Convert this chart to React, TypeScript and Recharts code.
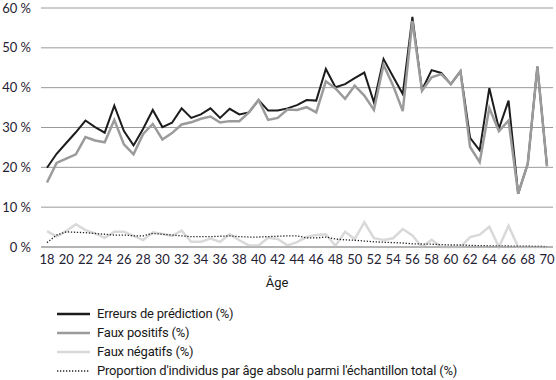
import React from 'react';
import { LineChart, Line, XAxis, YAxis, CartesianGrid, Legend } from 'recharts';

const ages = [18,19,20,21,22,23,24,25,26,27,28,29,30,31,32,33,34,35,36,37,38,39,40,41,42,43,44,45,46,47,48,49,50,51,52,53,54,55,56,57,58,59,60,61,62,63,64,65,66,67,68,69,70];

const erreurs = [19.9,23.4,26.1,28.8,31.75,30.1,28.7,35.5,29.1,25.5,
  29.7,34.4,30.1,31.2,34.8,32.4,33.3,34.8,32.4,34.7,
  33.3,33.8,36.9,34.25,34.25,34.8,35.6,36.9,36.75,44.7,
  40.1,40.9,42.4,43.8,36.3,47.2,42.75,38.4,57.75,39.4,
  44.4,43.7,40.9,44.1,27.4,24.25,39.9,29.7,36.75,13.4,
  20.9,45.3,20.3];

const fauxPositifs = [16.2,21.1,22.2,23.25,27.6,26.75,26.3,31.9,25.75,23.25,
  28.4,30.9,27,28.6,30.75,31.3,32.2,32.75,31.25,31.6,
  31.6,33.8,36.9,31.9,32.4,34.5,34.4,35.1,33.8,41.6,
  39.8,37.2,40.5,38,34.4,45.75,40.5,34.1,56.75,39.25,
  42.6,43.4,40.9,44.1,25.1,21.3,34.9,29.1,31.75,13.4,
  20.9,45.3,20.3];

const fauxNegatifs = [4.0,2.6,4.0,5.7,4.25,3.4,2.3,3.8,3.8,2.8,
  1.75,3.7,3.25,2.8,4.1,1.3,1.3,2.1,1.3,3.2,
  1.7,0.4,0.4,2.3,2.0,0.4,1.2,2.5,3.0,3.2,
  0.3,3.8,2.0,6.2,2.2,1.75,2.2,4.5,2.9,0,
  1.8,0,0,0,2.5,3.1,5.1,0,5.3,0,
  0,0,0];

const proportion = [1.1,3.0,3.8,3.7,3.6,3.4,3.2,3.0,3.0,2.8,
  2.8,3.4,3.2,3.0,2.8,2.6,2.6,2.6,2.7,2.8,
  2.6,2.5,2.5,2.6,2.7,2.8,2.8,2.3,2.3,2.5,
  2.0,1.8,1.7,1.5,1.3,1.2,1.1,1.0,0.8,0.75,
  0.7,0.6,0.5,0.5,0.4,0.35,0.3,0.3,0.25,0.2,
  0.2,0.15,0.1];

const xTicks = [18,20,22,24,26,28,30,32,34,36,38,40,42,44,46,48,50,52,54,56,58,60,62,64,66,68,70];
const yTicks = [0,10,20,30,40,50,60];

const series = [
  { key: 'erreurs', name: 'Erreurs de prédiction (%)', color: '#1c1c1c', width: 2, dash: undefined as string | undefined },
  { key: 'positifs', name: 'Faux positifs (%)', color: '#9b9b9b', width: 2.5, dash: undefined as string | undefined },
  { key: 'negatifs', name: 'Faux négatifs (%)', color: '#d9d9d9', width: 2.5, dash: undefined as string | undefined },
  { key: 'proportion', name: "Proportion d'individus par âge absolu parmi l'échantillon total (%)", color: '#222222', width: 1.3, dash: '1.3 1.7' },
];

const data = ages.map((age, i) => ({
  age,
  erreurs: erreurs[i],
  positifs: fauxPositifs[i],
  negatifs: fauxNegatifs[i],
  proportion: proportion[i],
}));

const FONT = "'Roboto', sans-serif";
const TICK_FONT = "'Lato', 'Open Sans', sans-serif";

const LegendContent = () => (
  <div style={{ fontFamily: FONT, fontSize: 13, letterSpacing: -0.2, color: '#1a1a1a' }}>
    {series.map((s) => (
      <div key={s.key} style={{ display: 'flex', alignItems: 'center', height: 19 }}>
        <svg width={33} height={6} style={{ marginRight: 7 }}>
          <line x1={0} y1={3} x2={33} y2={3} stroke={s.color} strokeWidth={s.key === 'proportion' ? 1.3 : 2.5} strokeDasharray={s.dash} />
        </svg>
        <span>{s.name}</span>
      </div>
    ))}
  </div>
);

export default function App() {
  return (
    <div style={{ position: 'absolute', left: 0, top: 0 }}>
      <LineChart width={556} height={380} data={data} margin={{ top: 8, right: 3, left: 0, bottom: 93 }}>
        <CartesianGrid vertical={false} stroke="#9a9a9a" strokeWidth={1} />
        <XAxis
          dataKey="age"
          type="number"
          domain={[18, 70]}
          ticks={xTicks}
          interval={0}
          padding={{ left: 6, right: 6 }}
          axisLine={{ stroke: '#9a9a9a' }}
          tickLine={false}
          height={40}
          tick={{ fontFamily: TICK_FONT, fontSize: 13, fill: '#1f2233' }}
          label={{ value: 'Âge', position: 'insideBottom', offset: 0, dx: -20, fontFamily: FONT, fontSize: 13, fill: '#1a1a1a' }}
        />
        <YAxis
          width={41}
          domain={[0, 60]}
          ticks={yTicks}
          axisLine={false}
          tickLine={false}
          tickMargin={4}
          tickFormatter={(v: number) => `${v} %`}
          tick={{ fontFamily: TICK_FONT, fontSize: 13, fill: '#1f2233' }}
        />
        <Legend
          layout="vertical"
          align="center"
          verticalAlign="middle"
          content={<LegendContent />}
          wrapperStyle={{ left: 57, top: 304, width: 480 }}
        />
        <Line dataKey="negatifs" name={series[2].name} stroke={series[2].color} strokeWidth={2.5} dot={false} isAnimationActive={false} />
        <Line dataKey="proportion" name={series[3].name} stroke={series[3].color} strokeWidth={1.3} strokeDasharray="1.3 1.7" dot={false} isAnimationActive={false} />
        <Line dataKey="erreurs" name={series[0].name} stroke={series[0].color} strokeWidth={2} dot={false} isAnimationActive={false} />
        <Line dataKey="positifs" name={series[1].name} stroke={series[1].color} strokeWidth={2.5} dot={false} isAnimationActive={false} />
      </LineChart>
    </div>
  );
}
